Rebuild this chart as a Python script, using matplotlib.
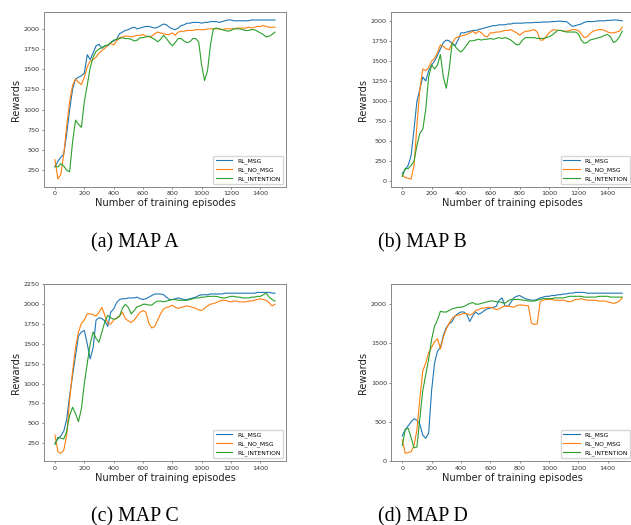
import numpy as np
import matplotlib
matplotlib.use("Agg")
import matplotlib.pyplot as plt

# episodes (x axis), one value every 20 episodes
episodes = np.arange(0, 1501, 20)

labels = ["RL_MSG", "RL_NO_MSG", "RL_INTENTION"]
captions = ["(a) MAP A", "(b) MAP B", "(c) MAP C", "(d) MAP D"]

# MAP A
a_msg = [290, 360, 410, 450, 700, 1000, 1250, 1380, 1400, 1420,
         1450, 1680, 1620, 1700, 1790, 1810, 1760, 1790, 1790, 1830,
         1850, 1870, 1940, 1960, 1980, 1990, 2010, 2020, 2000, 2010,
         2020, 2030, 2030, 2020, 2010, 2020, 2040, 2060, 2050, 2020,
         2000, 1990, 2010, 2040, 2050, 2070, 2070, 2080, 2080, 2080,
         2070, 2080, 2080, 2090, 2090, 2090, 2080, 2090, 2100, 2110,
         2110, 2100, 2100, 2100, 2100, 2100, 2100, 2110, 2110, 2110,
         2110, 2110, 2110, 2110, 2110, 2110]
a_no_msg = [380, 140, 200, 450, 800, 1100, 1300, 1380, 1340, 1310,
            1400, 1530, 1600, 1620, 1650, 1700, 1730, 1760, 1800, 1820,
            1800, 1850, 1890, 1900, 1910, 1910, 1900, 1910, 1920, 1920,
            1930, 1910, 1900, 1910, 1940, 1960, 1950, 1940, 1930, 1930,
            1950, 1920, 1960, 1970, 1970, 1980, 1980, 1980, 1990, 1990,
            1990, 1990, 2000, 2000, 2000, 2000, 2000, 1990, 2000, 2000,
            2000, 2000, 2010, 2010, 2010, 2010, 2020, 2010, 2020, 2030,
            2030, 2040, 2030, 2020, 2020, 2020]
a_intention = [300, 290, 330, 300, 250, 230, 600, 870, 820, 780,
               1100, 1300, 1520, 1650, 1720, 1750, 1770, 1790, 1800, 1830,
               1860, 1870, 1880, 1890, 1880, 1880, 1870, 1850, 1860, 1890,
               1890, 1900, 1910, 1890, 1870, 1840, 1870, 1920, 1880, 1830,
               1790, 1830, 1880, 1880, 1850, 1830, 1840, 1880, 1880, 1840,
               1550, 1360, 1480, 1800, 2000, 2010, 2000, 1990, 1980, 1970,
               1980, 2000, 2000, 2000, 1990, 1980, 1980, 1990, 1990, 1970,
               1950, 1930, 1900, 1910, 1930, 1960]

# MAP B
b_msg = [100, 150, 200, 320, 650, 1000, 1150, 1300, 1250, 1380,
         1450, 1500, 1570, 1650, 1730, 1760, 1750, 1720, 1690, 1760,
         1850, 1850, 1860, 1870, 1880, 1880, 1890, 1900, 1910, 1920,
         1930, 1940, 1940, 1950, 1950, 1950, 1960, 1960, 1970, 1970,
         1970, 1970, 1975, 1975, 1975, 1980, 1980, 1980, 1985, 1985,
         1985, 1990, 1990, 1995, 1995, 1990, 1990, 1960, 1930, 1940,
         1950, 1960, 1980, 1990, 1990, 1990, 1995, 2000, 2000, 2000,
         2005, 2005, 2010, 2010, 2005, 2000]
b_no_msg = [80, 50, 40, 30, 200, 700, 1150, 1400, 1380, 1420,
            1500, 1530, 1600, 1700, 1680, 1650, 1640, 1720, 1780, 1800,
            1810, 1820, 1830, 1850, 1870, 1840, 1870, 1850, 1810, 1800,
            1850, 1850, 1860, 1860, 1870, 1880, 1880, 1890, 1870, 1850,
            1820, 1850, 1870, 1870, 1880, 1890, 1860, 1760, 1760, 1800,
            1850, 1880, 1890, 1880, 1880, 1870, 1870, 1880, 1890, 1890,
            1880, 1840, 1790, 1800, 1840, 1870, 1880, 1890, 1890, 1880,
            1860, 1850, 1850, 1860, 1870, 1920]
b_intention = [60, 160, 160, 200, 250, 450, 600, 650, 900, 1300,
               1450, 1400, 1450, 1580, 1300, 1160, 1400, 1720, 1680, 1640,
               1610, 1650, 1700, 1750, 1750, 1760, 1770, 1760, 1770, 1770,
               1780, 1770, 1780, 1790, 1780, 1790, 1780, 1760, 1730, 1700,
               1710, 1760, 1790, 1790, 1790, 1790, 1780, 1780, 1780, 1790,
               1800, 1820, 1850, 1880, 1880, 1870, 1860, 1860, 1860, 1860,
               1840, 1760, 1720, 1730, 1760, 1770, 1780, 1790, 1800, 1820,
               1830, 1800, 1730, 1750, 1800, 1870]

# MAP C
c_msg = [250, 300, 340, 400, 550, 850, 1100, 1350, 1600, 1650,
         1670, 1500, 1310, 1450, 1800, 1830, 1820, 1790, 1720, 1900,
         1940, 2020, 2060, 2070, 2070, 2080, 2080, 2080, 2090, 2070,
         2060, 2070, 2090, 2110, 2130, 2130, 2130, 2120, 2090, 2060,
         2060, 2070, 2080, 2070, 2060, 2060, 2070, 2080, 2090, 2110,
         2120, 2120, 2120, 2130, 2130, 2130, 2130, 2130, 2140, 2140,
         2140, 2140, 2140, 2140, 2140, 2140, 2140, 2140, 2140, 2150,
         2150, 2150, 2150, 2150, 2140, 2140]
c_no_msg = [350, 140, 120, 160, 350, 800, 1150, 1450, 1650, 1760,
            1800, 1880, 1880, 1870, 1850, 1900, 1960, 1860, 1760, 1750,
            1800, 1830, 1850, 1900, 1820, 1790, 1770, 1800, 1850, 1900,
            1920, 1900, 1760, 1700, 1720, 1800, 1880, 1940, 1960, 1970,
            1990, 1960, 1950, 1960, 1970, 1980, 1970, 1960, 1950, 1930,
            1920, 1950, 1980, 2000, 2010, 2020, 2040, 2050, 2050, 2040,
            2030, 2040, 2040, 2030, 2030, 2030, 2040, 2040, 2050, 2060,
            2070, 2060, 2050, 2020, 1980, 2000]
c_intention = [230, 320, 310, 300, 400, 600, 700, 620, 520, 680,
               1000, 1250, 1500, 1650, 1570, 1520, 1650, 1780, 1860, 1830,
               1810, 1820, 1850, 1950, 2000, 1960, 1880, 1920, 1970, 1980,
               2000, 2000, 1990, 1990, 2020, 2040, 2040, 2030, 2040, 2050,
               2060, 2060, 2050, 2050, 2050, 2050, 2060, 2070, 2080, 2080,
               2090, 2090, 2100, 2100, 2100, 2100, 2090, 2080, 2080, 2090,
               2100, 2100, 2090, 2090, 2080, 2080, 2080, 2090, 2090, 2100,
               2100, 2120, 2140, 2090, 2060, 2040]

# MAP D
d_msg = [320, 400, 450, 500, 540, 520, 470, 330, 290, 360,
         900, 1250, 1400, 1450, 1600, 1700, 1750, 1780, 1850, 1880,
         1900, 1900, 1870, 1780, 1850, 1900, 1870, 1890, 1920, 1940,
         1950, 1960, 1970, 2050, 2080, 1980, 1970, 2020, 2080, 2100,
         2110, 2090, 2070, 2060, 2050, 2050, 2060, 2080, 2090, 2100,
         2100, 2110, 2110, 2120, 2120, 2130, 2130, 2140, 2140, 2150,
         2150, 2150, 2150, 2140, 2140, 2140, 2140, 2140, 2140, 2140,
         2140, 2140, 2140, 2140, 2140, 2140]
d_no_msg = [270, 100, 110, 120, 200, 400, 800, 1150, 1250, 1380,
            1450, 1520, 1560, 1430, 1580, 1680, 1760, 1820, 1850, 1860,
            1870, 1880, 1880, 1860, 1880, 1920, 1930, 1950, 1950, 1960,
            1960, 1950, 1930, 1940, 1960, 1980, 1970, 1970, 1960, 1980,
            1990, 1990, 1980, 1980, 1760, 1740, 1750, 2030, 2050, 2060,
            2060, 2060, 2050, 2050, 2050, 2050, 2040, 2030, 2040, 2060,
            2060, 2070, 2060, 2050, 2050, 2050, 2050, 2040, 2040, 2040,
            2030, 2020, 2010, 2020, 2040, 2080]
d_intention = [200, 400, 420, 300, 170, 180, 550, 900, 1100, 1300,
               1550, 1720, 1800, 1910, 1900, 1900, 1920, 1940, 1950, 1960,
               1960, 1970, 1990, 2010, 2020, 2000, 2000, 2010, 2020, 2030,
               2040, 2040, 2030, 2030, 2020, 2010, 2040, 2060, 2060, 2060,
               2060, 2050, 2050, 2040, 2040, 2040, 2050, 2060, 2070, 2070,
               2070, 2070, 2080, 2080, 2080, 2080, 2090, 2100, 2100, 2100,
               2100, 2100, 2090, 2090, 2090, 2090, 2090, 2100, 2100, 2100,
               2100, 2090, 2090, 2090, 2090, 2090]

x_ticks = [0, 200, 400, 600, 800, 1000, 1200, 1400]
y_ticks = [
    [250, 500, 750, 1000, 1250, 1500, 1750, 2000],
    [0, 250, 500, 750, 1000, 1250, 1500, 1750, 2000],
    [250, 500, 750, 1000, 1250, 1500, 1750, 2000, 2250],
    [0, 500, 1000, 1500, 2000],
]

panels = [
    (a_msg, a_no_msg, a_intention),
    (b_msg, b_no_msg, b_intention),
    (c_msg, c_no_msg, c_intention),
    (d_msg, d_no_msg, d_intention),
]

# axes positions in figure coords
positions = [
    [0.0697, 0.6438, 0.3835, 0.3333],
    [0.6201, 0.6438, 0.3835, 0.3333],
    [0.0697, 0.1213, 0.3835, 0.3371],
    [0.6201, 0.1213, 0.3835, 0.3371],
]
caption_pos = [(0.214, 0.5295), (0.670, 0.5295), (0.214, 0.0067), (0.670, 0.0067)]

colors = ["#1f77b4", "#ff7f0e", "#2ca02c"]

fig = plt.figure(figsize=(6.31, 5.25), dpi=100)

for i in range(4):
    ax = fig.add_axes(positions[i])
    for series, lab, col in zip(panels[i], labels, colors):
        ax.plot(episodes, series, color=col, linewidth=0.8, label=lab)
    ax.set_xticks(x_ticks)
    ax.set_yticks(y_ticks[i])
    ax.tick_params(labelsize=4.6, length=1.6, width=0.4, pad=1.5, colors="#333333")
    for s in ax.spines.values():
        s.set_color("#888888")
        s.set_linewidth(0.7)
    ax.set_xlabel("Number of training episodes", fontsize=7.1, labelpad=1.5, color="#222222")
    ax.set_ylabel("Rewards", fontsize=7.1, labelpad=2, color="#222222")
    ax.legend(loc="lower right", fontsize=4.3, handlelength=2.8)
    cx, cy = caption_pos[i]
    fig.text(cx, cy, captions[i], ha="center", va="baseline",
             family="Liberation Serif", fontsize=14.3)

plt.savefig("out.png", dpi=100)
